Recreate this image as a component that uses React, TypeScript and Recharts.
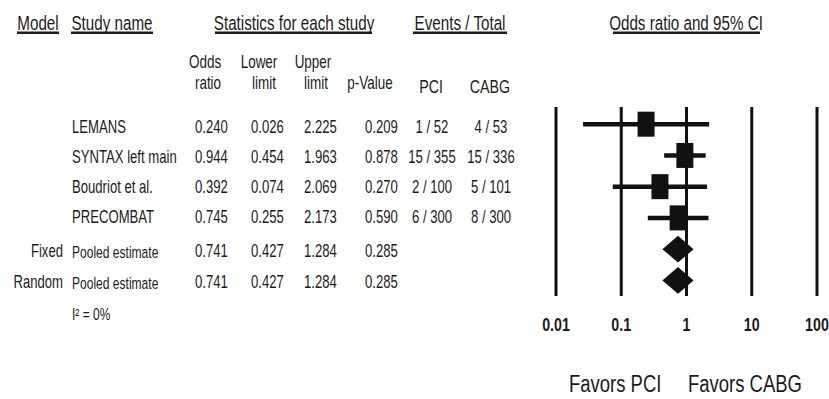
import React from "react";
import { ComposedChart, XAxis, YAxis, Scatter, ReferenceLine, ReferenceArea } from "recharts";

// study level data
const studyNames = ["LEMANS", "SYNTAX left main", "Boudriot et al.", "PRECOMBAT"];
const oddsRatios = [0.24, 0.944, 0.392, 0.745];
const lowerLimits = [0.026, 0.454, 0.074, 0.255];
const upperLimits = [2.225, 1.963, 2.069, 2.173];
const pValues = [0.209, 0.878, 0.27, 0.59];
const pciEvents = [1, 15, 2, 6];
const pciTotals = [52, 355, 100, 300];
const cabgEvents = [4, 15, 5, 8];
const cabgTotals = [53, 336, 101, 300];

// pooled estimates
const pooledModels = ["Fixed", "Random"];
const pooledOdds = [0.741, 0.741];
const pooledLower = [0.427, 0.427];
const pooledUpper = [1.284, 1.284];
const pooledP = [0.285, 0.285];
const heterogeneity = "I\u00B2 = 0%";

const xTicks = [0.01, 0.1, 1, 10, 100];

const studyPoints = oddsRatios.map((v, i) => ({ x: v, y: i + 1 }));
const pooledRows = pooledOdds.map((v, i) => ({ x: v, lo: pooledLower[i], hi: pooledUpper[i], y: studyNames.length + i + 1 }));

const FONT = "'Liberation Sans', Arial, sans-serif";
const INK = "#1c1c1c";
const textBaselines = [133, 163, 193, 223, 257, 288];

function T({ x, y, size = 17.5, sx = 0.75, anchor = "start", weight = "normal", children }: any) {
  return (
    <text
      transform={`translate(${x},${y}) scale(${sx},1)`}
      fontSize={size}
      fontFamily={FONT}
      fontWeight={weight}
      textAnchor={anchor}
      fill={INK}
    >
      {children}
    </text>
  );
}

function Header({ x, y, label, ux1, ux2 }: any) {
  return (
    <g>
      <T x={x} y={y} size={19.5} sx={0.78} anchor="middle">{label}</T>
      <rect x={ux1} y={31.5} width={ux2 - ux1} height={2.5} fill={INK} />
    </g>
  );
}

const Box = (props: any) => {
  const { cx, cy } = props;
  return <rect x={cx - 8.5} y={cy - 12.5} width={17} height={25} fill="#111" />;
};

const Diamond = (props: any) => {
  const { x, y, width, height } = props;
  const mx = x + width / 2;
  const my = y + height / 2;
  return <polygon points={`${x},${my} ${mx},${y} ${x + width},${my} ${mx},${y + height}`} fill="#111" />;
};

const Tick = (props: any) => {
  const { x, y, payload } = props;
  return (
    <T x={x} y={y + 35} size={19} sx={0.75} anchor="middle" weight="bold">
      {String(payload.value)}
    </T>
  );
};

export default function App() {
  const fmt = (v: number) => v.toFixed(3);
  return (
    <div style={{ position: "relative", width: 829, height: 399, background: "#fff" }}>
      <style>{`body{margin:0}`}</style>
      <ComposedChart
        width={829}
        height={399}
        margin={{ top: 107, right: 12, left: 556, bottom: 73 }}
      >
        <XAxis
          dataKey="x"
          type="number"
          scale="log"
          domain={[0.01, 100]}
          allowDataOverflow
          ticks={xTicks}
          axisLine={false}
          tickLine={false}
          tickSize={0}
          tickMargin={0}
          height={30}
          interval={0}
          tick={<Tick />}
        />
        <YAxis dataKey="y" type="number" domain={[0.45, 6.5]} reversed hide />
        {xTicks.map((t) => (
          <ReferenceLine key={t} x={t} stroke="#111" strokeWidth={3} />
        ))}
        {studyPoints.map((p, i) => (
          <ReferenceLine
            key={`ci-${i}`}
            segment={[{ x: lowerLimits[i], y: p.y }, { x: upperLimits[i], y: p.y }]}
            stroke="#111"
            strokeWidth={4.5}
          />
        ))}
        {pooledRows.map((r, i) => (
          <ReferenceArea
            key={`d-${i}`}
            x1={r.lo}
            x2={r.hi}
            y1={r.y - 0.43}
            y2={r.y + 0.43}
            shape={(p: any) => <Diamond {...p} />}
          />
        ))}
        <Scatter data={studyPoints} dataKey="y" shape={<Box />} isAnimationActive={false} />
      </ComposedChart>

      <svg width={829} height={399} style={{ position: "absolute", left: 0, top: 0, pointerEvents: "none" }}>
        <Header x={38} y={29.5} label="Model" ux1={17} ux2={59} />
        <Header x={112} y={29.5} label="Study name" ux1={71} ux2={153} />
        <Header x={294} y={29.5} label="Statistics for each study" ux1={215} ux2={372} />
        <Header x={460} y={29.5} label="Events / Total" ux1={413} ux2={507} />
        <Header x={686} y={29.5} label="Odds ratio and 95% CI" ux1={613} ux2={760} />

        <T x={205} y={68} anchor="middle" size={18}>Odds</T>
        <T x={208} y={89} anchor="middle" size={18}>ratio</T>
        <T x={259} y={68} anchor="middle" size={18}>Lower</T>
        <T x={264} y={89} anchor="middle" size={18}>limit</T>
        <T x={313} y={68} anchor="middle" size={18}>Upper</T>
        <T x={316} y={89} anchor="middle" size={18}>limit</T>
        <T x={370} y={89} anchor="middle" size={18}>p-Value</T>
        <T x={431} y={93} anchor="middle" size={19}>PCI</T>
        <T x={490} y={93} anchor="middle" size={19}>CABG</T>

        {studyNames.map((name, i) => (
          <g key={name}>
            <T x={72} y={textBaselines[i]}>{name}</T>
            <T x={195} y={textBaselines[i]}>{fmt(oddsRatios[i])}</T>
            <T x={251} y={textBaselines[i]}>{fmt(lowerLimits[i])}</T>
            <T x={304} y={textBaselines[i]}>{fmt(upperLimits[i])}</T>
            <T x={365} y={textBaselines[i]}>{fmt(pValues[i])}</T>
            <T x={432} y={textBaselines[i]} anchor="middle">{`${pciEvents[i]} / ${pciTotals[i]}`}</T>
            <T x={491} y={textBaselines[i]} anchor="middle">{`${cabgEvents[i]} / ${cabgTotals[i]}`}</T>
          </g>
        ))}
        {pooledModels.map((m, i) => {
          const yb = textBaselines[studyNames.length + i];
          return (
            <g key={m}>
              <T x={63} y={yb} anchor="end">{m}</T>
              <T x={72} y={yb + 1} size={16.5} sx={0.73}>Pooled estimate</T>
              <T x={195} y={yb}>{fmt(pooledOdds[i])}</T>
              <T x={251} y={yb}>{fmt(pooledLower[i])}</T>
              <T x={304} y={yb}>{fmt(pooledUpper[i])}</T>
              <T x={365} y={yb}>{fmt(pooledP[i])}</T>
            </g>
          );
        })}
        <T x={72} y={320} size={16}>{heterogeneity}</T>

        <T x={569} y={392} size={24} sx={0.77}>Favors PCI</T>
        <T x={688} y={392} size={24} sx={0.77}>Favors CABG</T>
      </svg>
    </div>
  );
}
